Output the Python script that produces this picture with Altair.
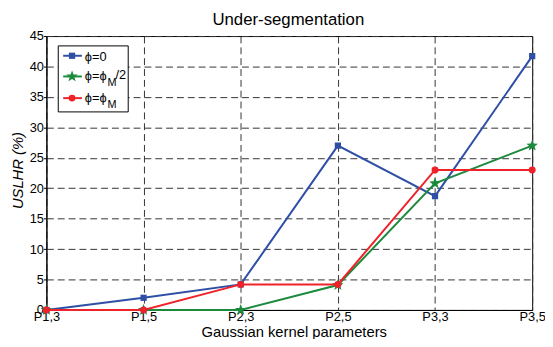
import math
import altair as alt
import pandas as pd

# ---- data ----
params = ["P1,3", "P1,5", "P2,3", "P2,5", "P3,3", "P3,5"]
phi_0 = [0.0, 2.0, 4.2, 27.0, 18.7, 41.7]
phi_half = [0.0, 0.0, 0.0, 4.1, 20.8, 27.0]
phi_M = [0.0, 0.0, 4.2, 4.2, 23.0, 23.0]
y_ticks = [0, 5, 10, 15, 20, 25, 30, 35, 40, 45]
chart_title = "Under-segmentation"

series = [phi_0, phi_half, phi_M]
colors = ["#2f4fa6", "#1c8a3d", "#ee2229"]

# star symbol path (normalized to [-1, 1])
pts = []
for k in range(10):
    a = -math.pi / 2 + k * math.pi / 5
    r = 1.0 if k % 2 == 0 else 0.42
    pts.append(f"{r * math.cos(a):.3f},{r * math.sin(a):.3f}")
star = "M" + "L".join(pts) + "Z"
shapes = ["square", star, "circle"]
sizes = [40, 150, 50]

FONT = "Liberation Sans"
W, H = 493, 278

x_enc = alt.X(
    "param:N", sort=params, scale=alt.Scale(padding=0),
    axis=alt.Axis(title="Gaussian kernel parameters", labelAngle=0, ticks=False,
                  labelPadding=1, grid=True, titleX=251, titleY=27,
                  titleBaseline="alphabetic", titleAlign="center"),
)
y_enc = alt.Y(
    "value:Q", scale=alt.Scale(domain=[0, 45], nice=False),
    axis=alt.Axis(title="USLHR (%)", values=y_ticks, tickSize=3, labelPadding=0,
                  grid=True, titleFontStyle="italic", titleX=-29, titleY=136,
                  titleAlign="center", titleBaseline="middle"),
)

layers = []
for vals, c, shp, sz in zip(series, colors, shapes, sizes):
    df = pd.DataFrame({"param": params, "value": vals})
    base = alt.Chart(df).encode(x=x_enc, y=y_enc)
    layers.append(base.mark_line(color=c, strokeWidth=2))
    layers.append(base.mark_point(shape=shp, size=sz, filled=True, color=c, opacity=1))

one = pd.DataFrame({"k": [0]})

# chart title
layers.append(alt.Chart(one).mark_text(
    text=chart_title, font=FONT, fontSize=17, color="black", align="center",
    baseline="alphabetic").encode(x=alt.value(W / 2 - 1), y=alt.value(-11)))

# manual legend (box, sample lines, markers, labels with subscripts)
legend_box = alt.Chart(one).mark_rect(fill="white", stroke="black", strokeWidth=1).encode(
    x=alt.value(12), x2=alt.value(83), y=alt.value(10), y2=alt.value(77))
layers.append(legend_box)

entry_y = [20, 41, 63]
for ey, c, shp, sz in zip(entry_y, colors, shapes, sizes):
    layers.append(alt.Chart(one).mark_rule(color=c, strokeWidth=2).encode(
        x=alt.value(17), x2=alt.value(36), y=alt.value(ey)))
    layers.append(alt.Chart(one).mark_point(shape=shp, size=sz, filled=True, color=c, opacity=1).encode(
        x=alt.value(26), y=alt.value(ey)))

txt = dict(font=FONT, fontSize=13, color="black", align="left", baseline="alphabetic")
sub = dict(font=FONT, fontSize=11, color="black", align="left", baseline="alphabetic")
layers.append(alt.Chart(one).mark_text(text="ϕ=0", **txt).encode(x=alt.value(39), y=alt.value(25)))
layers.append(alt.Chart(one).mark_text(text="ϕ=ϕ", **txt).encode(x=alt.value(39), y=alt.value(45)))
layers.append(alt.Chart(one).mark_text(text="M", **sub).encode(x=alt.value(62), y=alt.value(51)))
layers.append(alt.Chart(one).mark_text(text="/2", **txt).encode(x=alt.value(70), y=alt.value(44)))
layers.append(alt.Chart(one).mark_text(text="ϕ=ϕ", **txt).encode(x=alt.value(39), y=alt.value(67)))
layers.append(alt.Chart(one).mark_text(text="M", **sub).encode(x=alt.value(62), y=alt.value(73)))

chart = alt.layer(*layers).properties(
    width=W, height=H,
    background="white",
    autosize=alt.AutoSizeParams(type="none"),
    padding={"left": 39, "top": 26, "right": 13, "bottom": 27},
).configure_view(stroke="black", strokeWidth=1).configure_axis(
    labelFont=FONT, labelFontSize=13, labelColor="black",
    titleFont=FONT, titleFontSize=15, titleFontWeight="normal", titleColor="black",
    domainColor="black", domainWidth=1, tickColor="black",
    gridColor="#333333", gridDash=[7, 4], gridWidth=1, gridOpacity=1,
)

chart.save("out.html", embed_options={"renderer": "svg", "actions": False})
